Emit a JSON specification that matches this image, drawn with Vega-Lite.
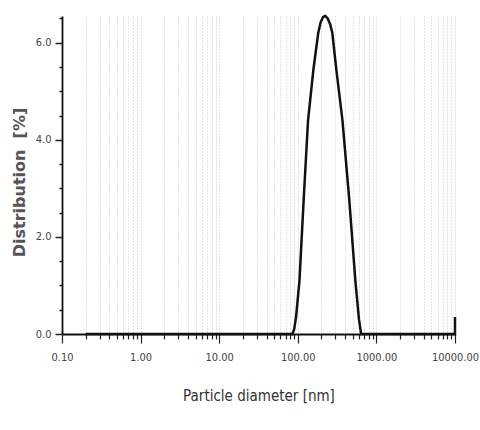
{
  "$schema": "https://vega.github.io/schema/vega-lite/v6.json",
  "width": 393,
  "height": 318,
  "autosize": {"type": "none"},
  "padding": {"left": 62, "top": 16, "right": 25, "bottom": 96},
  "background": "white",
  "config": {"view": {"stroke": null}},
  "data": {"values": [
    {"d": 0.2, "v": 0, "i": 1},
    {"d": 1, "v": 0, "i": 2},
    {"d": 10, "v": 0, "i": 3},
    {"d": 85, "v": 0, "i": 4},
    {"d": 90, "v": 0.1, "i": 5},
    {"d": 95, "v": 0.35, "i": 6},
    {"d": 105, "v": 1.1, "i": 7},
    {"d": 120, "v": 2.9, "i": 8},
    {"d": 135, "v": 4.4, "i": 9},
    {"d": 158, "v": 5.45, "i": 10},
    {"d": 182, "v": 6.2, "i": 11},
    {"d": 195, "v": 6.42, "i": 12},
    {"d": 210, "v": 6.53, "i": 13},
    {"d": 224, "v": 6.55, "i": 14},
    {"d": 240, "v": 6.5, "i": 15},
    {"d": 258, "v": 6.38, "i": 16},
    {"d": 275, "v": 6.2, "i": 17},
    {"d": 309, "v": 5.45, "i": 18},
    {"d": 370, "v": 4.4, "i": 19},
    {"d": 450, "v": 2.8, "i": 20},
    {"d": 540, "v": 1.1, "i": 21},
    {"d": 600, "v": 0.3, "i": 22},
    {"d": 640, "v": 0, "i": 23},
    {"d": 1000, "v": 0, "i": 24},
    {"d": 10000, "v": 0, "i": 25},
    {"d": 10000, "v": 0.35, "i": 26}
  ]},
  "mark": {"type": "line", "color": "#111", "strokeWidth": 2.5, "interpolate": "linear", "clip": false},
  "encoding": {
    "x": {
      "field": "d", "type": "quantitative",
      "scale": {"type": "log", "domain": [0.1, 10000], "nice": false},
      "axis": {
        "title": "Particle diameter [nm]",
        "values": [0.1,0.2,0.3,0.4,0.5,0.6,0.7,0.8,0.9,1,2,3,4,5,6,7,8,9,10,20,30,40,50,60,70,80,90,100,200,300,400,500,600,700,800,900,1000,2000,3000,4000,5000,6000,7000,8000,9000,10000],
        "labelExpr": "indexof([0.1,1,10,100,1000,10000], datum.value) >= 0 ? format(datum.value, '.2f') : ''",
        "labelFont": "Liberation Sans Narrow, DejaVu Sans Condensed, sans-serif",
        "labelFontSize": 11,
        "labelColor": "#444",
        "labelPadding": 8,
        "labelOverlap": false,
        "labelFlush": false,
        "tickColor": "#222",
        "tickWidth": 1.2,
        "tickSize": {"condition": {"test": "indexof([0.1,1,10,100,1000,10000], datum.value) >= 0", "value": 9}, "value": 5},
        "domainColor": "#111",
        "domainWidth": 1.8,
        "grid": true,
        "gridColor": "#c8c8c8",
        "gridDash": [1, 2],
        "gridWidth": 1,
        "titleFont": "Liberation Sans Narrow, DejaVu Sans Condensed, sans-serif",
        "titleFontSize": 15,
        "titleFontWeight": "normal",
        "titleColor": "#333",
        "titlePadding": 26
      }
    },
    "y": {
      "field": "v", "type": "quantitative",
      "scale": {"domain": [0, 6.55], "nice": false, "zero": true},
      "axis": {
        "title": "Distribution\u00a0\u00a0[%]",
        "values": [0,0.5,1,1.5,2,2.5,3,3.5,4,4.5,5,5.5,6,6.5],
        "labelExpr": "datum.value % 2 == 0 ? format(datum.value, '.1f') : ''",
        "labelFont": "Liberation Sans Narrow, DejaVu Sans Condensed, sans-serif",
        "labelFontSize": 11,
        "labelColor": "#444",
        "labelPadding": 4,
        "tickColor": "#222",
        "tickWidth": 1.5,
        "tickSize": {"condition": {"test": "datum.value % 2 == 0", "value": 7}, "value": 3},
        "domainColor": "#111",
        "domainWidth": 1.8,
        "grid": false,
        "titleFont": "DejaVu Sans",
        "titleFontSize": 16,
        "titleFontWeight": "bold",
        "titleColor": "#555",
        "titlePadding": 8,
        "titleY": 166
      }
    },
    "order": {"field": "i", "type": "quantitative"}
  }
}
